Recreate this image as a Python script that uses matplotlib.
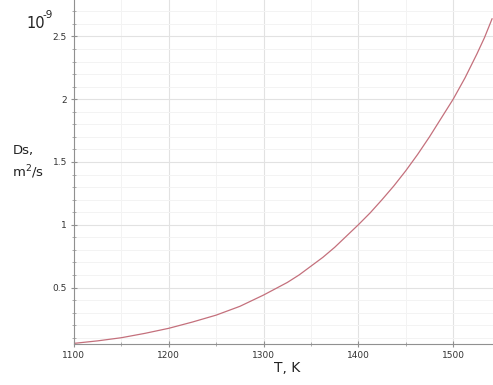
import numpy as np
import matplotlib
matplotlib.use("Agg")
import matplotlib.pyplot as plt
from matplotlib.ticker import MultipleLocator

# temperature (K) and diffusion coefficient (x 1e-9 m^2/s)
T = [1100, 1125, 1150, 1175, 1200, 1225, 1250, 1275, 1300, 1312.5, 1325,
     1337.5, 1350, 1362.5, 1375, 1387.5, 1400, 1412.5, 1425, 1437.5, 1450,
     1462.5, 1475, 1487.5, 1500, 1512.5, 1525, 1533, 1541]
Ds = [0.055, 0.075, 0.10, 0.135, 0.175, 0.225, 0.28, 0.35, 0.44, 0.49, 0.54,
      0.60, 0.67, 0.74, 0.82, 0.91, 1.0, 1.095, 1.2, 1.31, 1.43,
      1.56, 1.70, 1.85, 2.0, 2.17, 2.36, 2.49, 2.64]

fig = plt.figure(figsize=(4.93, 3.85), dpi=100)
ax = fig.add_axes([0.150, 0.1065, 0.850, 0.8935])

ax.plot(T, Ds, color="#c4707c", lw=0.9)

ax.set_xlim(1100, 1542)
ax.set_ylim(0.05, 2.79)
ax.xaxis.set_major_locator(MultipleLocator(100))
ax.xaxis.set_minor_locator(MultipleLocator(50))
ax.yaxis.set_minor_locator(MultipleLocator(0.1))
ax.set_yticks([0.5, 1, 1.5, 2, 2.5])
ax.set_yticklabels(["0.5", "1", "1.5", "2", "2.5"])

ax.grid(which="major", color="#e2e2e2", lw=0.8)
ax.grid(which="minor", color="#f3f3f3", lw=0.7)
ax.set_axisbelow(True)

for s in ["top", "right"]:
    ax.spines[s].set_visible(False)
for s in ["left", "bottom"]:
    ax.spines[s].set_color("#909090")
    ax.spines[s].set_linewidth(0.8)

ax.tick_params(which="major", direction="inout", length=4, color="#909090",
               labelsize=6.5, labelcolor="#333333", pad=3)
ax.tick_params(which="minor", direction="inout", length=3, color="#a0a0a0")

# 10^-9 multiplier, drawn as two texts so the exponent keeps a plain hyphen
fig.text(0.053, 0.940, "10", fontsize=10.5, color="#222222", ha="left", va="center")
fig.text(0.087, 0.962, "-9", fontsize=7.5, color="#222222", ha="left", va="center")
fig.text(0.026, 0.608, "Ds,", fontsize=9.5, color="#222222", ha="left", va="center")
fig.text(0.024, 0.553, r"m$^{\mathregular{2}}$/s", fontsize=9.5, color="#222222",
         ha="left", va="center")
fig.text(0.582, 0.045, "T, K", fontsize=10, color="#222222", ha="center", va="center")

fig.savefig("out.png", dpi=100)
